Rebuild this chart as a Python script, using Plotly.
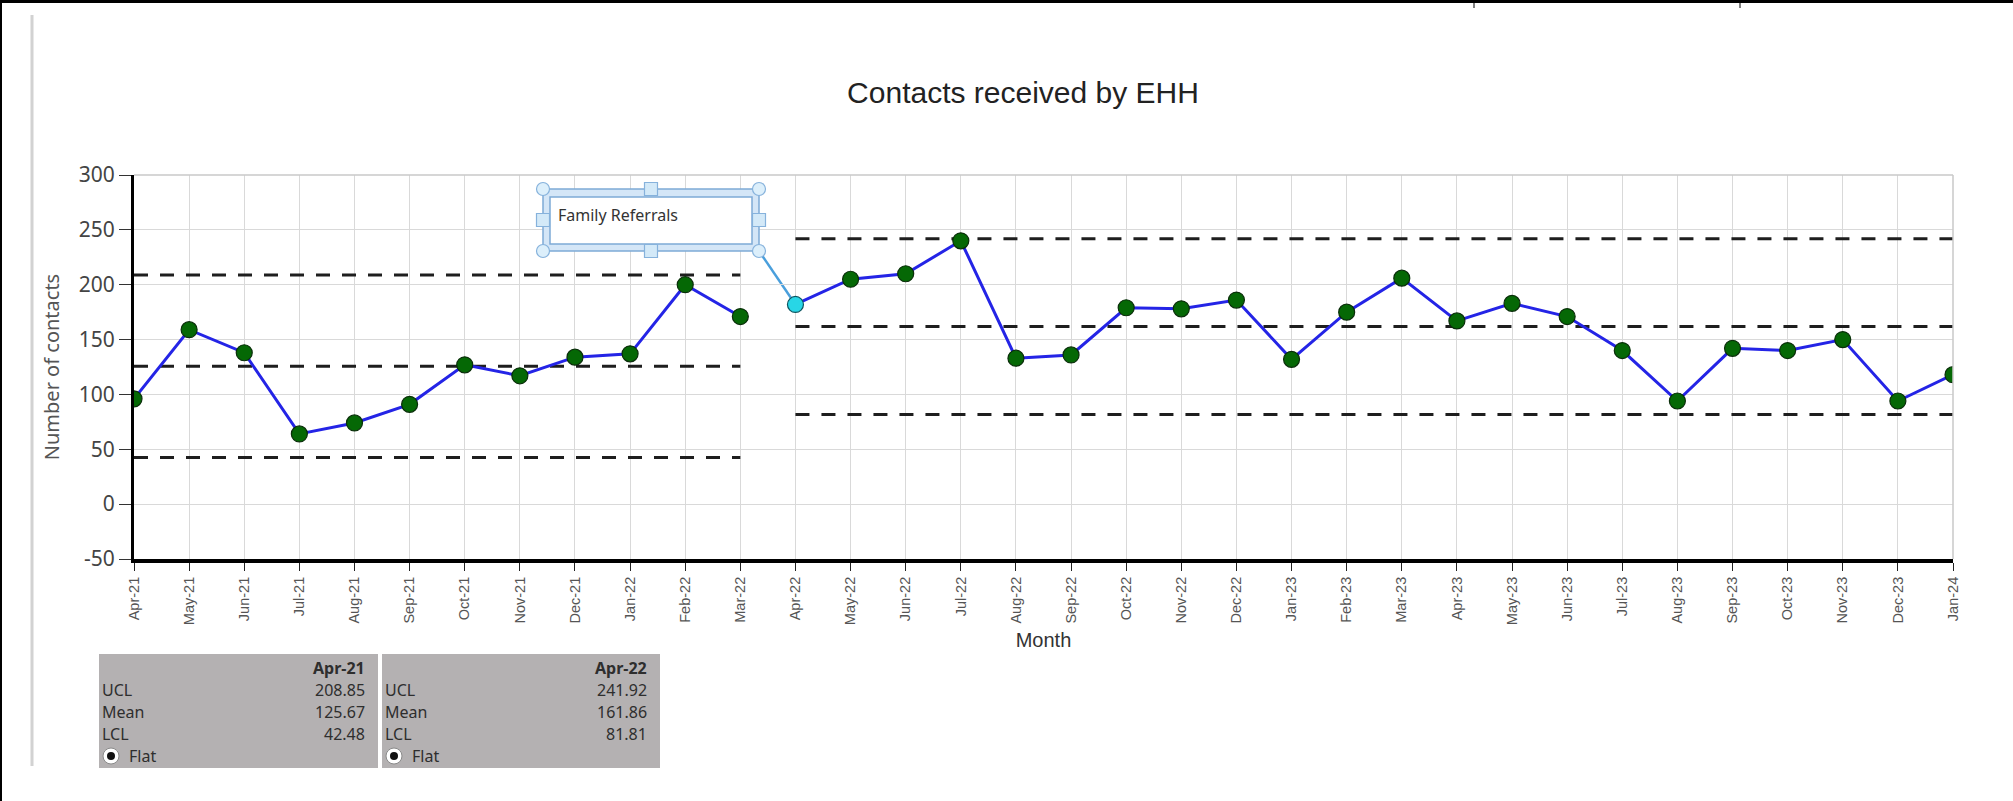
import plotly.graph_objects as go

# ---------------- data ----------------
months = ["Apr-21", "May-21", "Jun-21", "Jul-21", "Aug-21", "Sep-21", "Oct-21", "Nov-21",
          "Dec-21", "Jan-22", "Feb-22", "Mar-22", "Apr-22", "May-22", "Jun-22", "Jul-22",
          "Aug-22", "Sep-22", "Oct-22", "Nov-22", "Dec-22", "Jan-23", "Feb-23", "Mar-23",
          "Apr-23", "May-23", "Jun-23", "Jul-23", "Aug-23", "Sep-23", "Oct-23", "Nov-23",
          "Dec-23", "Jan-24"]
contacts = [96, 159, 138, 64, 74, 91, 127, 117, 134, 137, 200, 171,
            182, 205, 210, 240, 133, 136, 179, 178, 186, 132, 175, 206,
            167, 183, 171, 140, 94, 142, 140, 150, 94, 118]

phase_start = ["Apr-21", "Apr-22"]
phase_end = ["Mar-22", "Jan-24"]
phase_ucl = [208.85, 241.92]
phase_mean = [125.67, 161.86]
phase_lcl = [42.48, 81.81]
phase_method = ["Flat", "Flat"]
annotation_text = "Family Referrals"
annotated_month = "Apr-22"

y_ticks = [-50, 0, 50, 100, 150, 200, 250, 300]
y_ticktext = ["-50", "0", "50", "100", "150", "200", "250", "300"]

# ---------------- geometry helpers ----------------
W, H = 2013, 801
L, R, T, B = 134, 1953, 175, 559


def px(x):
    return (x - L) / (R - L)


def py(y):
    return (B - y) / (B - T)


fig = go.Figure()

# control limit dashed lines
for s, e, u, m, l in zip(phase_start, phase_end, phase_ucl, phase_mean, phase_lcl):
    for v in (u, m, l):
        fig.add_trace(go.Scatter(
            x=[s, e], y=[v, v], mode="lines",
            line=dict(color="#1e1e1e", width=3, dash="14px,12px"),
            hoverinfo="skip"))

# data series, one trace per phase
for s, e in zip(phase_start, phase_end):
    i0, i1 = months.index(s), months.index(e)
    xs = months[i0:i1 + 1]
    ys = contacts[i0:i1 + 1]
    colors = ["#28d6e6" if x == annotated_month else "#056805" for x in xs]
    lcolors = ["#0d5560" if x == annotated_month else "#0a2e0a" for x in xs]
    fig.add_trace(go.Scatter(
        x=xs, y=ys, mode="lines+markers",
        line=dict(color="#2424e6", width=3),
        marker=dict(size=16, color=colors, line=dict(color=lcolors, width=1.2)),
        name="Contacts"))

shapes = []
annotations = []

# plot frame (top / right thin gray)
shapes.append(dict(type="line", xref="paper", yref="paper", x0=0, x1=1, y0=1, y1=1,
                   line=dict(color="#c8c8c8", width=1.5)))
shapes.append(dict(type="line", xref="paper", yref="paper", x0=1, x1=1, y0=0, y1=1,
                   line=dict(color="#c8c8c8", width=1.5)))

# page decorations
shapes.append(dict(type="line", xref="paper", yref="paper", x0=px(0), x1=px(W),
                   y0=py(1.5), y1=py(1.5), line=dict(color="black", width=3)))
shapes.append(dict(type="line", xref="paper", yref="paper", x0=px(1), x1=px(1),
                   y0=py(0), y1=py(H), line=dict(color="black", width=2)))
shapes.append(dict(type="line", xref="paper", yref="paper", x0=px(32), x1=px(32),
                   y0=py(15), y1=py(766), line=dict(color="#d2d2d2", width=3)))
for xx in (1474, 1740):
    shapes.append(dict(type="line", xref="paper", yref="paper", x0=px(xx), x1=px(xx),
                       y0=py(0), y1=py(8), line=dict(color="black", width=1)))

# annotation callout box ("Family Referrals")
bx0, bx1, by0, by1 = 543, 759, 189, 251
ai = months.index(annotated_month)
# connector from box corner to the annotated data point
shapes.append(dict(type="line", xref="x", yref="y",
                   x0=(bx1 - L) / (R - L) * (len(months) - 1), y0=300 - (by1 - T) / (B - T) * 350,
                   x1=ai, y1=contacts[ai],
                   line=dict(color="#4a9fdc", width=2.5), layer="below"))
shapes.append(dict(type="rect", xref="paper", yref="paper", x0=px(bx0), x1=px(bx1),
                   y0=py(by0), y1=py(by1), fillcolor="#d4e6f7",
                   line=dict(color="#7eaad6", width=1.5)))
shapes.append(dict(type="rect", xref="paper", yref="paper", x0=px(550), x1=px(752),
                   y0=py(197), y1=py(244), fillcolor="white",
                   line=dict(color="#7eaad6", width=1.5)))
for cx, cy in [(bx0, by0), (bx1, by0), (bx0, by1), (bx1, by1)]:
    shapes.append(dict(type="circle", xref="paper", yref="paper",
                       xsizemode="pixel", ysizemode="pixel",
                       xanchor=px(cx), yanchor=py(cy), x0=-6.5, x1=6.5, y0=-6.5, y1=6.5,
                       fillcolor="#dcefFB", line=dict(color="#86b2dc", width=1.2)))
mx, my = (bx0 + bx1) / 2, (by0 + by1) / 2
for cx, cy in [(mx, by0), (mx, by1), (bx0, my), (bx1, my)]:
    shapes.append(dict(type="rect", xref="paper", yref="paper",
                       xsizemode="pixel", ysizemode="pixel",
                       xanchor=px(cx), yanchor=py(cy), x0=-6.5, x1=6.5, y0=-6.5, y1=6.5,
                       fillcolor="#d3e9f8", line=dict(color="#86b2dc", width=1.2)))
annotations.append(dict(xref="paper", yref="paper", x=px(556), y=py(215),
                        xanchor="left", yanchor="middle", showarrow=False,
                        text=annotation_text,
                        font=dict(family="Noto Sans", size=16, color="#333333")))

# phase summary tables
boxes = [(99, 378), (382, 660)]
tbl_font = dict(family="Noto Sans", size=16, color="#2e2e2e")
for (x0, x1), s, u, m, l, meth in zip(boxes, phase_start, phase_ucl, phase_mean,
                                      phase_lcl, phase_method):
    shapes.append(dict(type="rect", xref="paper", yref="paper", x0=px(x0), x1=px(x1),
                       y0=py(654), y1=py(768), fillcolor="#b4b1b2", line=dict(width=0),
                       layer="below"))
    annotations.append(dict(xref="paper", yref="paper", x=px(x1 - 11), y=py(668),
                            xanchor="right", yanchor="middle", showarrow=False,
                            text="<b>%s</b>" % s, font=tbl_font))
    for lab, val, yy in [("UCL", u, 690), ("Mean", m, 712), ("LCL", l, 734)]:
        annotations.append(dict(xref="paper", yref="paper", x=px(x0 + 1), y=py(yy),
                                xanchor="left", yanchor="middle", showarrow=False,
                                text=lab, font=tbl_font))
        annotations.append(dict(xref="paper", yref="paper", x=px(x1 - 11), y=py(yy),
                                xanchor="right", yanchor="middle", showarrow=False,
                                text="%.2f" % val, font=tbl_font))
    shapes.append(dict(type="circle", xref="paper", yref="paper",
                       xsizemode="pixel", ysizemode="pixel",
                       xanchor=px(x0 + 12), yanchor=py(756), x0=-8, x1=8, y0=-8, y1=8,
                       fillcolor="white", line=dict(color="#8a8a8a", width=1)))
    shapes.append(dict(type="circle", xref="paper", yref="paper",
                       xsizemode="pixel", ysizemode="pixel",
                       xanchor=px(x0 + 12), yanchor=py(756), x0=-4, x1=4, y0=-4, y1=4,
                       fillcolor="#111111", line=dict(width=0)))
    annotations.append(dict(xref="paper", yref="paper", x=px(x0 + 28), y=py(756),
                            xanchor="left", yanchor="middle", showarrow=False,
                            text=meth, font=tbl_font))

fig.update_layout(
    width=W, height=H,
    margin=dict(l=L, r=W - R, t=T, b=H - B, autoexpand=False),
    paper_bgcolor="white", plot_bgcolor="white",
    showlegend=False,
    title=dict(text="Contacts received by EHH", xref="container", yref="container",
               x=1023 / W, y=1 - 92 / H, xanchor="center", yanchor="middle",
               font=dict(family="Liberation Sans, Arial", size=30, color="#222222")),
    shapes=shapes,
    annotations=annotations,
)

fig.update_xaxes(
    type="category", categoryorder="array", categoryarray=months,
    range=[0, len(months) - 1],
    tickmode="array", tickvals=months, ticktext=months,
    tickangle=-90,
    tickfont=dict(family="Liberation Sans, Arial", size=14.5, color="#555555"),
    ticks="outside", ticklen=8, tickcolor="#222222", tickwidth=1,
    showgrid=True, gridcolor="#d9d9d9", gridwidth=1,
    showline=True, linecolor="black", linewidth=4,
    zeroline=False,
    title=dict(text="Month", standoff=10,
               font=dict(family="Liberation Sans, Arial", size=20, color="#333333")),
)
fig.update_yaxes(
    range=[-50, 300], tickmode="array", tickvals=y_ticks, ticktext=y_ticktext,
    tickfont=dict(family="Noto Sans", size=21, color="#444444"),
    ticks="outside", ticklen=12, tickcolor="#333333", tickwidth=1,
    showgrid=True, gridcolor="#d9d9d9", gridwidth=1,
    showline=True, linecolor="black", linewidth=3,
    zeroline=False,
    title=dict(text="Number of contacts", standoff=14,
               font=dict(family="Noto Sans", size=20, color="#555555")),
)

fig.write_html("out.html",
               config={"displayModeBar": False, "displaylogo": False},
               post_script="document.body.style.margin='0px';document.body.style.overflow='hidden';")
